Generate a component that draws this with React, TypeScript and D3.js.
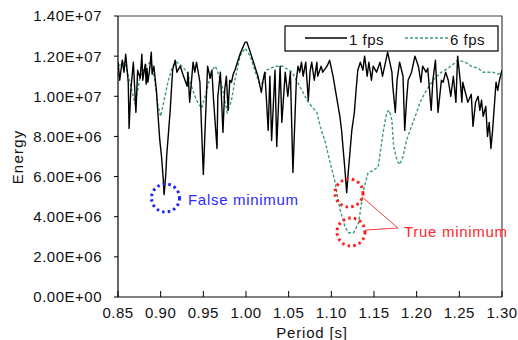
import React from "react";
import * as d3 from "d3";

// values, energy in units of 1e6
const period1fps = [
  0.85, 0.852, 0.855, 0.857, 0.859, 0.862, 0.863, 0.865, 0.868, 0.871, 0.873, 0.876, 0.878, 0.879,
  0.882, 0.883, 0.884, 0.885, 0.887, 0.889, 0.89, 0.892, 0.895, 0.897, 0.899, 0.901, 0.903, 0.904,
  0.906, 0.907, 0.909, 0.911, 0.914, 0.917, 0.919, 0.923, 0.926, 0.931, 0.932, 0.934, 0.938, 0.94,
  0.942, 0.946, 0.948, 0.95, 0.952, 0.955, 0.958, 0.96, 0.962, 0.966, 0.967, 0.97, 0.973, 0.975,
  0.977, 0.979, 0.981, 0.983, 0.985, 0.987, 0.993, 0.999, 1.001, 1.005, 1.008, 1.014, 1.018, 1.02,
  1.022, 1.024, 1.026, 1.028, 1.03, 1.034, 1.036, 1.04, 1.042, 1.046, 1.049, 1.052, 1.055, 1.059,
  1.061, 1.063, 1.065, 1.067, 1.07, 1.073, 1.075, 1.077, 1.08, 1.083, 1.084, 1.088, 1.09, 1.095,
  1.098, 1.102, 1.106, 1.11, 1.112, 1.114, 1.116, 1.118, 1.12, 1.122, 1.124, 1.127, 1.129, 1.131,
  1.134, 1.137, 1.139, 1.142, 1.144, 1.147, 1.149, 1.153, 1.157, 1.16, 1.165, 1.166, 1.171, 1.172,
  1.175, 1.177, 1.18, 1.184, 1.186, 1.188, 1.19, 1.194, 1.198, 1.202, 1.205, 1.207, 1.211, 1.213,
  1.217, 1.219, 1.222, 1.225, 1.229, 1.231, 1.234, 1.237, 1.24, 1.243, 1.246, 1.248, 1.251, 1.253,
  1.254, 1.257, 1.26, 1.264, 1.266, 1.269, 1.272, 1.274, 1.276, 1.278, 1.281, 1.283, 1.285, 1.287,
  1.289, 1.291, 1.293, 1.295, 1.297, 1.3,
];
const energy1fps = [
  11.7, 10.8, 11.8, 11.2, 12.1, 10.7, 8.4, 10.3, 11.7, 9.2, 11.3, 10.9, 12.1, 10.8,
  11.6, 10.6, 11.4, 10.7, 11.3, 12.2, 11.1, 11.5, 10.3, 9.0, 7.8, 7.0, 5.9, 5.1,
  6.1, 7.0, 8.1, 9.2, 11.3, 11.8, 11.2, 11.5, 11.1, 10.5, 11.2, 9.7, 11.7, 11.2,
  11.7, 10.7, 8.3, 6.1, 8.3, 11.5, 10.9, 11.3, 9.8, 7.4, 10.0, 11.2, 8.2, 10.3,
  11.0, 9.3, 10.8, 10.7, 11.1, 11.3, 12.1, 12.7, 12.7, 12.2, 11.8, 11.0, 10.2, 10.8,
  11.2, 9.8, 8.3, 11.0, 7.8, 11.3, 7.5, 11.5, 8.7, 11.2, 10.0, 11.2, 6.2, 10.8,
  11.5, 11.2, 11.7, 11.0, 11.7, 9.8, 11.2, 11.7, 10.8, 11.7, 11.0, 11.5, 11.2, 11.5,
  11.8, 11.0, 10.0, 9.0, 8.3, 7.3, 6.3, 5.2, 6.3, 7.3, 8.3, 9.2, 10.3, 11.3,
  11.7, 11.3, 12.0, 11.0, 11.7, 10.8, 11.5, 11.2, 11.7, 11.0, 12.0, 12.2, 11.2, 10.5,
  9.2, 10.8, 11.7, 11.0, 8.3, 9.7, 10.8, 11.2, 12.0, 11.5, 10.7, 11.5, 11.2, 11.4,
  9.3, 10.8, 11.8, 9.2, 10.8, 10.7, 11.2, 10.8, 10.0, 11.0, 9.7, 12.0, 10.8, 9.7,
  10.7, 10.2, 9.7, 10.1, 8.5, 9.7, 10.0, 9.3, 9.8, 9.0, 9.5, 8.0, 8.7, 7.4,
  8.3, 9.5, 10.7, 10.3, 10.8, 11.3,
];

const period6fps = [
  0.85, 0.858, 0.864, 0.87, 0.876, 0.884, 0.889, 0.893, 0.897, 0.9, 0.905, 0.909, 0.914, 0.919,
  0.925, 0.931, 0.936, 0.942, 0.948, 0.954, 0.96, 0.964, 0.967, 0.972, 0.975, 0.978, 0.983, 0.987,
  0.993, 0.999, 1.005, 1.011, 1.016, 1.02, 1.024, 1.034, 1.043, 1.054, 1.063, 1.073, 1.079, 1.083,
  1.087, 1.093, 1.098, 1.104, 1.11, 1.116, 1.12, 1.126, 1.132, 1.137, 1.143, 1.149, 1.155, 1.161,
  1.165, 1.168, 1.171, 1.173, 1.177, 1.18, 1.184, 1.188, 1.194, 1.2, 1.204, 1.21, 1.216, 1.221,
  1.229, 1.237, 1.243, 1.248, 1.257, 1.264, 1.272, 1.278, 1.284, 1.289, 1.295, 1.3,
];
const energy6fps = [
  11.5, 11.7, 10.7, 9.6, 11.0, 11.6, 11.7, 10.8, 9.5, 9.0, 10.0, 10.8, 11.5, 11.7,
  11.5, 11.2, 10.5, 9.8, 9.4, 10.3, 11.3, 11.5, 11.2, 10.5, 9.8, 9.2, 9.8, 10.8,
  12.0, 12.4, 12.0, 11.2, 10.6, 10.7, 11.3, 11.5, 11.5, 11.2, 10.5, 9.7, 9.4, 9.2,
  8.5, 7.7, 6.8, 5.8, 4.4, 3.5, 3.2, 3.2, 3.7, 5.2, 6.2, 6.3, 6.5, 8.3,
  9.2, 9.3, 8.8, 7.5, 6.8, 6.6, 7.0, 7.8, 8.5, 9.2, 9.7, 10.2, 10.6, 10.9,
  11.2, 11.4, 11.6, 11.8, 11.7, 11.5, 11.4, 11.2, 11.2, 11.2, 11.1, 11.2,
];

const xTicks = [0.85, 0.9, 0.95, 1.0, 1.05, 1.1, 1.15, 1.2, 1.25, 1.3];
const yTicks = [0, 2, 4, 6, 8, 10, 12, 14];
const seriesNames = ["1 fps", "6 fps"];

const width = 518;
const height = 340;
const margin = { top: 16, right: 16, bottom: 43, left: 118 };
const font = "'Liberation Sans', Arial, sans-serif";
const green = "#3d9e70";

function sci(v: number) {
  if (v === 0) return "0.00E+00";
  const [m, e] = v.toExponential(2).split("e");
  const n = +e;
  return `${m}E${n < 0 ? "-" : "+"}${String(Math.abs(n)).padStart(2, "0")}`;
}

export default function App() {
  const x = d3.scaleLinear().domain([0.85, 1.3]).range([margin.left, width - margin.right]);
  const y = d3.scaleLinear().domain([0, 14]).range([height - margin.bottom, margin.top]);

  const line = d3
    .line<[number, number]>()
    .x((d) => x(d[0]))
    .y((d) => y(d[1]));

  const black = line(period1fps.map((p, i) => [p, energy1fps[i]]) as [number, number][]) || "";
  const dashed = line(period6fps.map((p, i) => [p, energy6fps[i]]) as [number, number][]) || "";

  const x0 = margin.left;
  const x1 = width - margin.right;
  const y0 = height - margin.bottom;
  const y1 = margin.top;

  return (
    <svg
      width={width}
      height={height}
      style={{ position: "absolute", left: 0, top: 0, background: "#fff" }}
      fontFamily={font}
    >
      <defs>
        <clipPath id="plot">
          <rect x={x0} y={y1} width={x1 - x0} height={y0 - y1} />
        </clipPath>
      </defs>

      {/* frame */}
      <path d={`M${x0},${y1}H${x1}V${y0}`} fill="none" stroke="#444" strokeWidth={1.2} />

      {/* y axis */}
      <line x1={x0} x2={x0} y1={y1} y2={y0} stroke="#000" strokeWidth={1.2} />
      {yTicks.map((t) => (
        <g key={t}>
          <line x1={x0 - 4} x2={x0} y1={y(t)} y2={y(t)} stroke="#000" />
          <text
            x={102}
            y={y(t)}
            dy="0.36em"
            textAnchor="end"
            fontSize={15}
            letterSpacing={0.5}
            fill="#111"
          >
            {sci(t * 1e6)}
          </text>
        </g>
      ))}

      {/* x axis */}
      <line x1={x0} x2={x1} y1={y0} y2={y0} stroke="#000" strokeWidth={1.2} />
      {xTicks.map((t) => (
        <g key={t}>
          <line x1={x(t)} x2={x(t)} y1={y0} y2={y0 - 6} stroke="#000" />
          <text x={x(t)} y={318} textAnchor="middle" fontSize={15} letterSpacing={0.5} fill="#111">
            {t.toFixed(2)}
          </text>
        </g>
      ))}

      <text
        transform={`translate(23,157) rotate(-90)`}
        textAnchor="middle"
        fontSize={15}
        letterSpacing={1.2}
        fill="#111"
      >
        Energy
      </text>
      <text x={312} y={338} textAnchor="middle" fontSize={15} letterSpacing={0.8} fill="#111">
        Period [s]
      </text>

      <g clipPath="url(#plot)">
        <path d={dashed} fill="none" stroke={green} strokeWidth={1.4} strokeDasharray="3 2" />
        <path d={black} fill="none" stroke="#000" strokeWidth={1.4} strokeLinejoin="round" />
      </g>

      {/* legend */}
      <rect x={285} y={26} width={213} height={25} fill="#fff" stroke="#000" strokeWidth={1.2} />
      <line x1={305} x2={347} y1={38} y2={38} stroke="#000" strokeWidth={1.4} />
      <text x={349} y={45} fontSize={15} letterSpacing={0.5} fill="#111">
        {seriesNames[0]}
      </text>
      <line x1={405} x2={448} y1={38} y2={38} stroke={green} strokeWidth={1.4} strokeDasharray="3 2" />
      <text x={450} y={45} fontSize={15} letterSpacing={0.5} fill="#111">
        {seriesNames[1]}
      </text>

      {/* annotations */}
      <circle cx={165.5} cy={198} r={14} fill="none" stroke="#2222ff" strokeWidth={3} strokeDasharray="2.5 3.2" />
      <text x={188} y={205} fontSize={15} letterSpacing={0.7} fill="#2a2aff">
        False minimum
      </text>

      <circle cx={349} cy={193} r={14} fill="none" stroke="#ff2020" strokeWidth={3} strokeDasharray="2.5 3.2" />
      <circle cx={351} cy={232} r={14} fill="none" stroke="#ff2020" strokeWidth={3} strokeDasharray="2.5 3.2" />
      <line x1={362} y1={197} x2={398} y2={228} stroke="#ff4040" strokeWidth={1} />
      <line x1={366} y1={230} x2={398} y2={228} stroke="#ff4040" strokeWidth={1} />
      <text x={404} y={237} fontSize={15} letterSpacing={0.7} fill="#ff2a2a">
        True minimum
      </text>
    </svg>
  );
}
